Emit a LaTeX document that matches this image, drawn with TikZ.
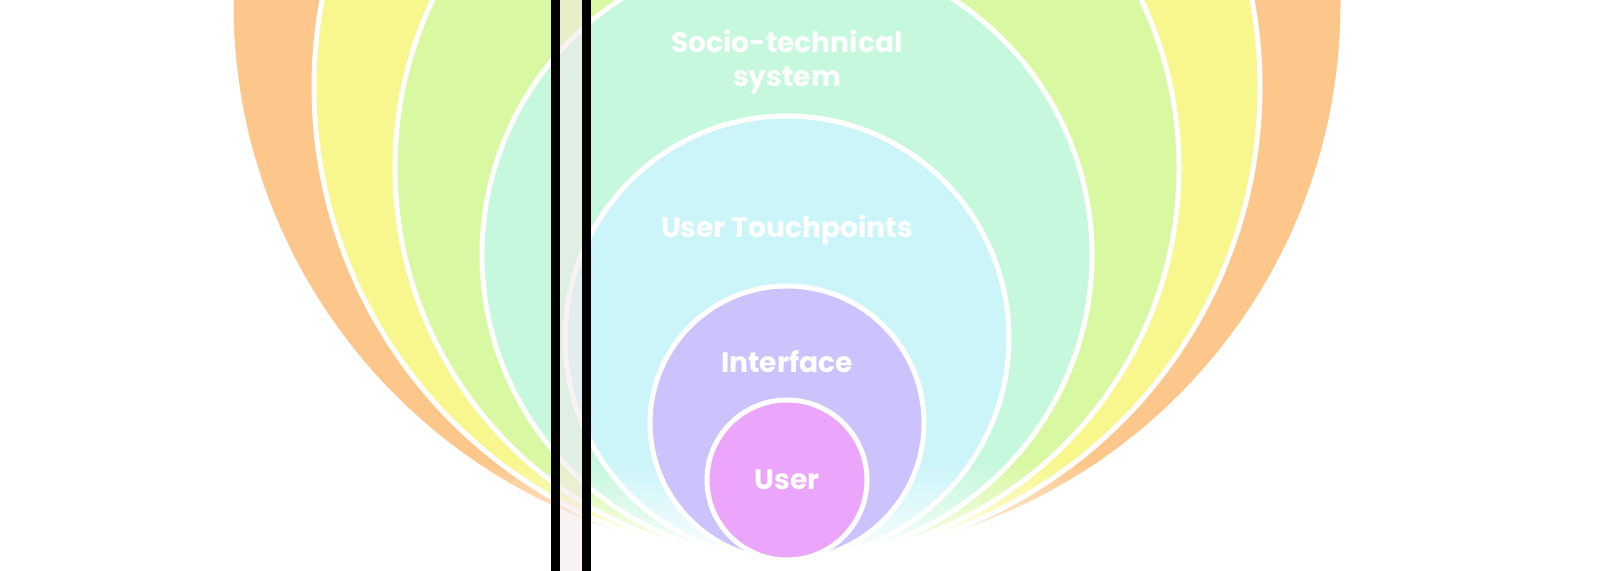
\documentclass[tikz,border=0pt]{standalone}
\usepackage{fontspec}
\setmainfont{Poppins}
\usetikzlibrary{fadings}

\definecolor{ringorange}{HTML}{FDC68A}
\definecolor{ringyellow}{HTML}{F8F78E}
\definecolor{ringgreen}{HTML}{D8F9A2}
\definecolor{ringmint}{HTML}{C6F8DE}
\definecolor{ringcyan}{HTML}{CCF5FA}
\definecolor{ringlavender}{HTML}{CDC3FC}
\definecolor{ringpink}{HTML}{EBA6FC}
\definecolor{stripfill}{HTML}{F5E8E8}

\tikzfading[name=fade down, top color=transparent!100, bottom color=transparent!0]

\begin{document}
\begin{tikzpicture}[x=0.01cm,y=0.01cm,
    ring/.style={draw=white,line width=0.05cm},
    ringtext/.style={text=white,font=\bfseries\fontsize{8}{9.5}\selectfont,align=center}]
    \useasboundingbox (0,0) rectangle (1600,571);
    \clip (0,0) rectangle (1600,571);
    \fill[white] (0,0) rectangle (1600,571);

    % outer rings, all touching at the bottom
    \draw[ring,fill=ringorange] (787,567) circle (556);
    \draw[ring,fill=ringyellow] (787,484) circle (473);
    \draw[ring,fill=ringgreen] (787,403) circle (392);
    \draw[ring,fill=ringmint] (787,316) circle (305);
    \draw[ring,fill=ringcyan] (787,233) circle (222);
    \fill[white,path fading=fade down] (0,8) rectangle (1600,108);
    \fill[white] (0,0) rectangle (1600,8);

    % inner circles
    \draw[ring,fill=ringlavender] (787,148) circle (137);
    \draw[ring,fill=ringpink] (787,91) circle (80);

    \node[ringtext] (socio) at (787,509) {Socio-technical\\system};
    \node[ringtext] (touch) at (787,341) {User Touchpoints};
    \node[ringtext] (iface) at (787,209) {Interface};
    \node[ringtext] (user) at (787,91) {User};

    % the strip
    \draw[black,line width=0.09cm,fill=stripfill,fill opacity=0.55]
        (555,-20) rectangle (586,591);
\end{tikzpicture}
\end{document}
